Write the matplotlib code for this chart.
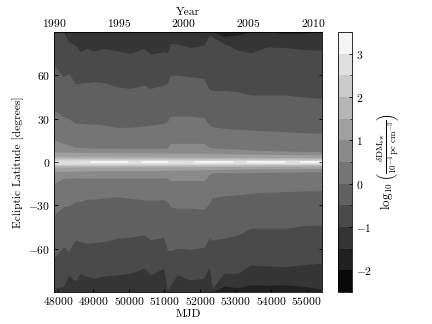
import matplotlib
matplotlib.use("Agg")
import matplotlib.pyplot as plt
from matplotlib.colors import ListedColormap, BoundaryNorm
from matplotlib.cm import ScalarMappable

# -----------------------------
# Data
# -----------------------------
# contour levels of log10(dDM_sw / 1e-4 pc cm^-3)
levels = [-2.5, -2.0, -1.5, -1.0, -0.5, 0.0, 0.5, 1.0, 1.5, 2.0, 2.5, 3.0, 3.5]
cbar_ticks = [-2, -1, 0, 1, 2, 3]

# sample epochs (MJD) for the outer contour lines
mjd = [47892, 48160, 48300, 48490, 48630, 48820, 49000, 49290, 49660,
       50040, 50420, 50610, 50980, 51080, 51170, 51360, 51740, 52110,
       52260, 52350, 52680, 53060, 53430, 53900, 54380, 54850, 55430]

# ecliptic latitude (deg) of each contour, north side
north_m15 = [90, 90, 90, 90, 90, 90, 90, 90, 90, 90, 90, 90, 90, 90,
             90, 90, 90, 90, 90, 90, 87, 88, 90, 90, 89, 89, 90]
north_m10 = [90, 90, 83.3, 81.0, 76.4, 78.7, 77.0, 78.7, 77.0, 75.2, 78.7,
             74.8, 76.4, 75.7, 82.1, 81.7, 79.4, 81.0, 87.8, 86.6, 82.1,
             77.5, 75.7, 79.8, 79.4, 78.0, 77.5]
north_m05 = [67.2, 59.1, 61.4, 54.5, 54.5, 55.0, 55.6, 55.0, 52.1, 51.0,
             53.3, 51.0, 53.3, 54.5, 60.2, 60.2, 59.1, 57.9, 50.3, 49.8,
             49.4, 48.7, 46.4, 46.4, 46.4, 45.2, 44.1]
north_00 = [36.0, 31.4, 30.2, 26.8, 26.8, 26.3, 26.3, 25.6, 24.0, 24.0,
            24.9, 25.6, 26.8, 27.9, 31.8, 31.8, 31.8, 30.9, 25.6, 24.5,
            23.3, 22.6, 22.2, 21.5, 21.0, 20.3, 19.8]
north_05 = [15.2, 12.9, 12.0, 10.1, 10.0, 9.8, 9.7, 9.6, 9.5, 9.5, 9.5,
            9.5, 9.5, 9.6, 12.9, 13.0, 13.0, 12.9, 10.1, 9.8, 9.3, 8.8,
            8.3, 8.0, 7.6, 7.4, 7.2]

# south side
south_m15 = [-90, -90, -90, -90, -90, -90, -90, -90, -90, -90, -90, -90,
             -90, -90, -90, -90, -90, -90, -90, -90, -86, -87, -85, -85.5,
             -85, -86, -88]
south_m10 = [-87.4, -86.3, -78.2, -82.8, -77.1, -79.4, -80.6, -79.0, -78.2,
             -77.1, -73.6, -78.2, -73.6, -88.6, -85.1, -78.2, -81.7, -80.6,
             -72.5, -87.4, -77.1, -77.1, -71.3, -72.0, -72.5, -71.3, -70.1]
south_m05 = [-66.7, -58.6, -62.1, -54.0, -55.1, -56.3, -55.8, -55.1, -52.8,
             -52.1, -50.5, -54.0, -52.1, -60.9, -61.4, -59.8, -60.5, -59.0,
             -52.8, -54.0, -52.8, -50.5, -45.9, -45.9, -45.9, -44.3, -43.6]
south_00 = [-36.7, -30.9, -30.5, -27.5, -27.5, -25.8, -25.8, -25.1, -24.0,
            -25.1, -26.3, -26.3, -26.3, -27.5, -30.9, -32.1, -32.1, -32.8,
            -28.6, -24.5, -23.5, -22.8, -21.7, -21.0, -20.5, -20.1, -19.9]
south_05 = [-14.8, -11.3, -11.2, -11.0, -11.0, -11.0, -11.0, -11.0, -11.0,
            -11.0, -11.0, -11.0, -11.0, -11.3, -12.9, -12.9, -12.9, -12.9,
            -9.0, -7.4, -7.4, -7.4, -7.4, -7.2, -7.0, -6.8, -6.7]

# narrow bands round the ecliptic (coarser epochs)
center_mjd = [47892, 49000, 51100, 52300, 53500, 55430]
north_10 = [7.0, 6.5, 6.2, 6.0, 5.4, 5.0]
north_15 = [3.8, 3.6, 3.5, 3.3, 3.1, 3.0]
north_20 = [2.5, 2.4, 2.3, 2.2, 2.1, 2.0]
north_25 = [1.5, 1.4, 1.4, 1.3, 1.3, 1.2]
south_10 = [-6.5, -6.0, -5.8, -5.2, -4.8, -4.5]
south_15 = [-3.6, -3.4, -3.3, -3.2, -3.0, -2.9]
south_20 = [-2.4, -2.3, -2.2, -2.1, -2.0, -1.9]
south_25 = [-1.5, -1.4, -1.4, -1.3, -1.3, -1.2]

# epochs where the brightest level (> 3) shows up at b = 0
white_start = [48905, 50359, 51859, 53313, 54813]
white_end = [49982, 51108, 52936, 54390, 55430]
white_half = 0.8

# -----------------------------
# Style
# -----------------------------
plt.rcParams["font.family"] = "serif"
plt.rcParams["font.serif"] = ["cmr10"]
plt.rcParams["mathtext.fontset"] = "cm"
plt.rcParams["axes.formatter.use_mathtext"] = True
plt.rcParams["xtick.direction"] = "in"
plt.rcParams["ytick.direction"] = "in"
plt.rcParams["font.size"] = 11.5

band_colors = [plt.cm.gray((i + 0.5) / 12) for i in range(12)]


def band(level_lo):
    return band_colors[levels.index(level_lo)]


# -----------------------------
# Plot
# -----------------------------
fig = plt.figure(figsize=(6, 4.5), dpi=72)
ax = fig.add_axes([0.125, 0.099, 0.62, 0.802])

ax.fill_between(mjd, -90, 90, color=band(-2.0), lw=0)
outer = [
    (south_m15, north_m15, -1.5),
    (south_m10, north_m10, -1.0),
    (south_m05, north_m05, -0.5),
    (south_00, north_00, 0.0),
    (south_05, north_05, 0.5),
]
for lo, hi, lev in outer:
    ax.fill_between(mjd, lo, hi, color=band(lev), lw=0)

inner = [
    (south_10, north_10, 1.0),
    (south_15, north_15, 1.5),
    (south_20, north_20, 2.0),
    (south_25, north_25, 2.5),
]
for lo, hi, lev in inner:
    ax.fill_between(center_mjd, lo, hi, color=band(lev), lw=0)

for t0, t1 in zip(white_start, white_end):
    ax.fill_between([t0, t1], -white_half, white_half, color=band(3.0), lw=0)

ax.set_xlim(mjd[0], mjd[-1])
ax.set_ylim(-90, 90)
ax.set_xticks([48000, 49000, 50000, 51000, 52000, 53000, 54000, 55000])
ax.set_yticks([-60, -30, 0, 30, 60])
ax.tick_params(right=True, top=False)
ax.set_xlabel("MJD", labelpad=2)
ax.set_ylabel("Ecliptic Latitude [degrees]")


def mjd2year(x):
    return 2000.0 + (x - 51544.5) / 365.25


def year2mjd(y):
    return 51544.5 + (y - 2000.0) * 365.25


top = ax.secondary_xaxis("top", functions=(mjd2year, year2mjd))
top.set_xticks([1990, 1995, 2000, 2005, 2010])
top.tick_params(direction="in")
top.set_xlabel("Year", labelpad=2)

# colorbar
cax = fig.add_axes([0.782, 0.099, 0.033, 0.802])
sm = ScalarMappable(norm=BoundaryNorm(levels, 12), cmap=ListedColormap(band_colors))
cb = fig.colorbar(sm, cax=cax, ticks=cbar_ticks)
cb.set_label(r"$\log_{10}\left(\frac{\delta\mathrm{DM}_{\mathrm{sw}}}"
             r"{10^{-4}\,\mathrm{pc\ cm^{-3}}}\right)$", labelpad=2, fontsize=13)

fig.savefig("out.png", dpi=72)
